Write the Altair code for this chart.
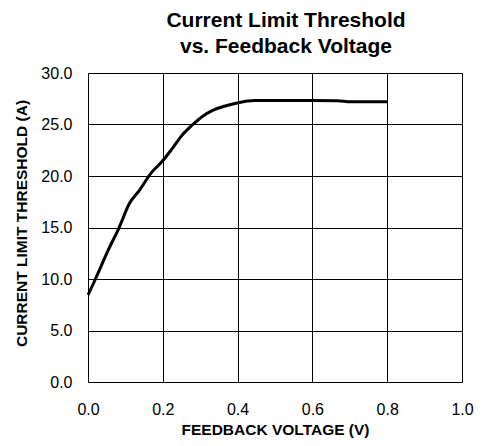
import altair as alt
import pandas as pd

voltage = [0.0, 0.02, 0.054, 0.082, 0.111, 0.138, 0.168, 0.198, 0.226, 0.252,
           0.279, 0.305, 0.332, 0.367, 0.402, 0.446, 0.5, 0.596, 0.667, 0.702, 0.8]
current = [8.45, 10.0, 12.8, 14.9, 17.35, 18.64, 20.26, 21.4, 22.7, 23.98,
           24.95, 25.76, 26.34, 26.8, 27.12, 27.32, 27.33, 27.32, 27.3, 27.2, 27.2]
x_ticks = [0.0, 0.2, 0.4, 0.6, 0.8, 1.0]
y_ticks = [0, 5, 10, 15, 20, 25, 30]

df = pd.DataFrame({"v": voltage, "i": current})

FONT = "Liberation Sans"

chart = alt.Chart(df).mark_line(color="black", strokeWidth=3, interpolate="monotone").encode(
    x=alt.X("v:Q",
            scale=alt.Scale(domain=[0, 1], nice=False, zero=False),
            axis=alt.Axis(values=x_ticks, format=".1f", title="FEEDBACK VOLTAGE (V)",
                          ticks=False, labelPadding=19, titlePadding=5, labelFlush=False,
                          domain=False, grid=True, gridColor="black", gridWidth=1,
                          labelFont=FONT, labelFontSize=16, labelColor="black",
                          titleFont=FONT, titleFontSize=15.5, titleFontWeight="bold",
                          titleColor="black")),
    y=alt.Y("i:Q",
            scale=alt.Scale(domain=[0, 30], nice=False),
            axis=alt.Axis(values=y_ticks, format=".1f", title="CURRENT LIMIT THRESHOLD (A)",
                          ticks=False, labelPadding=16, titlePadding=11, labelFlush=False,
                          domain=False, grid=True, gridColor="black", gridWidth=1,
                          labelFont=FONT, labelFontSize=16, labelColor="black",
                          titleFont=FONT, titleFontSize=15.5, titleFontWeight="bold",
                          titleColor="black", titleY=150)),
).properties(
    width=374,
    height=309,
    title=alt.TitleParams(
        text=["Current Limit Threshold", "vs. Feedback Voltage"],
        font=FONT, fontSize=21, fontWeight="bold", color="black",
        anchor="middle", frame="group", dx=11, offset=8, lineHeight=26,
    ),
    autosize=alt.AutoSizeParams(type="none"),
    padding={"left": 80, "top": 65, "right": 12, "bottom": 56},
).configure_view(
    stroke="black", strokeWidth=1.5
).configure(background="white")

chart.save("out.html", embed_options={"renderer": "svg", "actions": False})
